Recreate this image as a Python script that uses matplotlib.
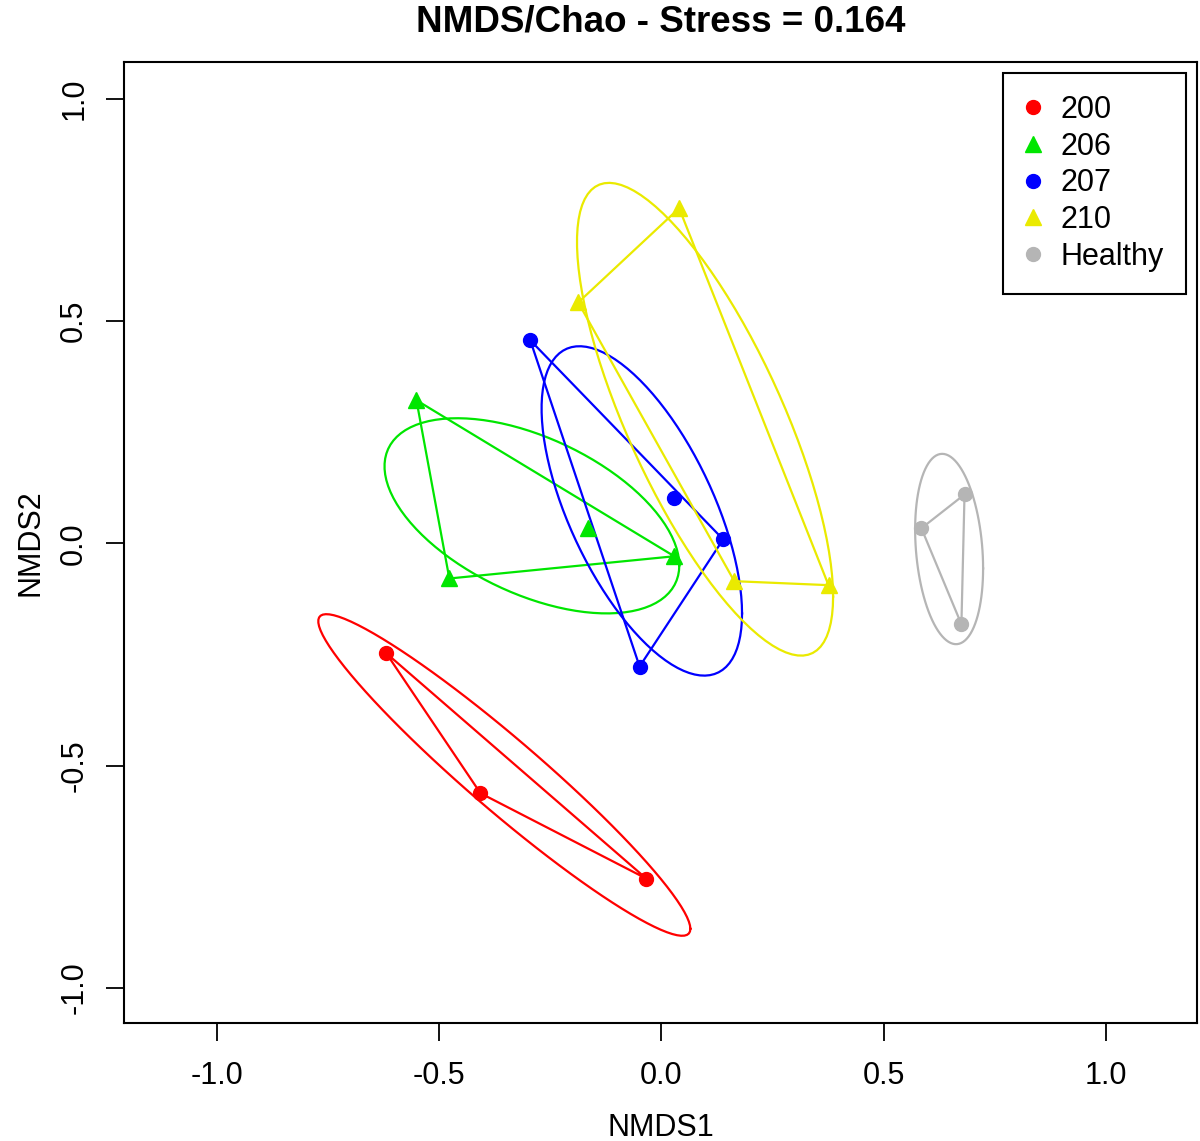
import numpy as np
import matplotlib
matplotlib.use("Agg")
import matplotlib.pyplot as plt

plt.rcParams["font.family"] = ["Liberation Sans", "DejaVu Sans"]
plt.rcParams["axes.unicode_minus"] = False

# NMDS site scores, per group
groups = ["200", "206", "207", "210", "Healthy"]
nmds1 = {
    "200": [-0.619, -0.407, -0.034],
    "206": [-0.551, -0.477, -0.166, 0.029],
    "207": [-0.295, 0.029, 0.139, -0.049],
    "210": [0.040, -0.187, 0.164, 0.376],
    "Healthy": [0.585, 0.682, 0.675],
}
nmds2 = {
    "200": [-0.247, -0.562, -0.754],
    "206": [0.322, -0.079, 0.034, -0.029],
    "207": [0.457, 0.103, 0.009, -0.277],
    "210": [0.754, 0.542, -0.085, -0.094],
    "Healthy": [0.034, 0.110, -0.182],
}
colors = {"200": "#FF0000", "206": "#00E600", "207": "#0000FF",
          "210": "#EAEA00", "Healthy": "#B5B5B5"}
markers = {"200": "o", "206": "^", "207": "o", "210": "^", "Healthy": "o"}
ticks = [-1.0, -0.5, 0.0, 0.5, 1.0]
tick_labels = ["-1.0", "-0.5", "0.0", "0.5", "1.0"]
stress = 0.164


def convex_hull(pts):
    pts = sorted(map(tuple, pts))

    def cross(o, a, b):
        return (a[0] - o[0]) * (b[1] - o[1]) - (a[1] - o[1]) * (b[0] - o[0])

    lower, upper = [], []
    for p in pts:
        while len(lower) >= 2 and cross(lower[-2], lower[-1], p) <= 0:
            lower.pop()
        lower.append(p)
    for p in reversed(pts):
        while len(upper) >= 2 and cross(upper[-2], upper[-1], p) <= 0:
            upper.pop()
        upper.append(p)
    hull = lower[:-1] + upper[:-1]
    return np.array(hull + [hull[0]])


def se_ellipse(x, y, conf=0.95, npoints=100):
    # like vegan::ordiellipse(kind="se", conf=0.95)
    xy = np.column_stack([x, y])
    center = xy.mean(axis=0)
    cov = np.cov(xy, rowvar=False) / len(x)
    scale = np.sqrt(-2 * np.log(1 - conf))  # chi-square, 2 df
    t = np.linspace(0, 2 * np.pi, npoints)
    circle = np.column_stack([np.cos(t), np.sin(t)])
    chol = np.linalg.cholesky(cov)
    return center + scale * circle @ chol.T


fig = plt.figure(figsize=(12, 11.41), dpi=100)
ax = fig.add_axes([0.1033, 0.1034, 0.8942, 0.8423])

for g in groups:
    x, y = nmds1[g], nmds2[g]
    ell = se_ellipse(x, y)
    ax.plot(ell[:, 0], ell[:, 1], color=colors[g], lw=1.6, zorder=2)
    hull = convex_hull(np.column_stack([x, y]))
    ax.plot(hull[:, 0], hull[:, 1], color=colors[g], lw=1.6, zorder=2)
    ax.plot(x, y, ls="none", marker=markers[g], color=colors[g],
            markersize=10 if markers[g] == "o" else 11.5, label=g, zorder=3)

ax.set_xlim(-1.209, 1.205)
ax.set_ylim(-1.079, 1.083)
ax.set_xticks(ticks)
ax.set_xticklabels(tick_labels)
ax.set_yticks(ticks)
ax.set_yticklabels(tick_labels, rotation=90, va="center")
ax.tick_params(labelsize=22, length=13, width=1.3, pad=14, direction="out")
ax.tick_params(axis="y", pad=12)
for s in ax.spines.values():
    s.set_linewidth(1.5)

ax.set_title(f"NMDS/Chao - Stress = {stress}", fontsize=26.5,
             fontweight="bold", pad=22)
ax.set_xlabel("NMDS1", fontsize=22, labelpad=16)
ax.set_ylabel("NMDS2", fontsize=22, labelpad=10)

leg = ax.legend(loc="upper right", bbox_to_anchor=(1 - 11 / 1073, 1 - 11 / 961),
                borderaxespad=0, fontsize=22, frameon=True, fancybox=False,
                framealpha=1, edgecolor="black", handlelength=0.52,
                handletextpad=0.65, labelspacing=0.22, borderpad=0.72)
leg.get_frame().set_linewidth(1.5)

fig.savefig("out.png", dpi=100)
